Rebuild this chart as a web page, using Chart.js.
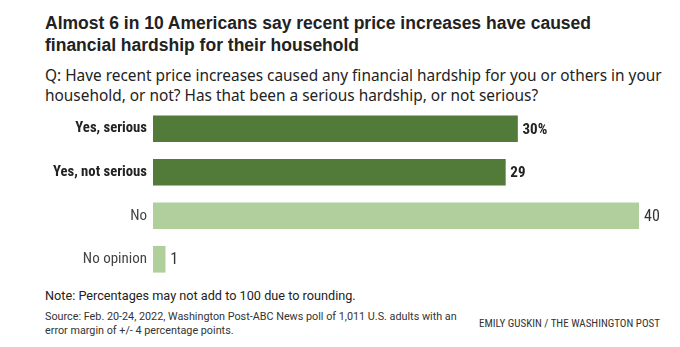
<!DOCTYPE html>
<html>
<head>
<meta charset="utf-8">
<script src="https://cdn.jsdelivr.net/npm/chart.js@4.4.1/dist/chart.umd.min.js"></script>
<style>
  html, body { margin: 0; padding: 0; background: #fff; }
  body { width: 680px; height: 347px; position: relative; overflow: hidden; color: #222; }
  .abs { position: absolute; white-space: nowrap; }
  #title { left: 45px; top: 12px; font: bold 17.5px/22px "Liberation Sans", Arial, sans-serif; color: #222; }
  #subtitle { left: 45px; top: 66px; font: 15.4px/20px "Noto Sans", sans-serif; color: #222; }
  #note { left: 45px; top: 288px; font: 12.7px/16px Roboto, sans-serif; color: #222; }
  #source { left: 45px; top: 310px; font: 10.8px/14px Roboto, sans-serif; color: #333; }
  #credit { left: 479px; top: 317px; font: 11px/14px "Roboto Condensed", "Liberation Sans Narrow", sans-serif; color: #333; }
  #chart { position: absolute; left: 0; top: 106px; }
</style>
</head>
<body>
<div id="title" class="abs">Almost 6 in 10 Americans say recent price increases have caused<br>financial hardship for their household</div>
<div id="subtitle" class="abs">Q: Have recent price increases caused any financial hardship for you or others in your<br>household, or not? Has that been a serious hardship, or not serious?</div>
<canvas id="chart" width="680" height="177"></canvas>
<div id="note" class="abs">Note: Percentages may not add to 100 due to rounding.</div>
<div id="source" class="abs">Source: Feb. 20-24, 2022, Washington Post-ABC News poll of 1,011 U.S. adults with an<br>error margin of +/- 4 percentage points.</div>
<div id="credit" class="abs">EMILY GUSKIN / THE WASHINGTON POST</div>
<script>
// Survey responses and their shares (percent)
const categories = ["Yes, serious", "Yes, not serious", "No", "No opinion"];
const values = [30, 29, 40, 1];
const valueLabels = ["30%", "29", "40", "1"];
const boldRows = [true, true, false, false];

const DARK = "#527a38";
const LIGHT = "#b0cf9c";
const NARROW = '"Liberation Sans Narrow", "Roboto Condensed", sans-serif';

// Writes each bar's value just past its end
const valueLabelPlugin = {
  id: "valueLabels",
  afterDatasetsDraw(chart) {
    const { ctx } = chart;
    const meta = chart.getDatasetMeta(0);
    ctx.save();
    ctx.textBaseline = "middle";
    ctx.textAlign = "left";
    meta.data.forEach((bar, i) => {
      ctx.font = boldRows[i] ? "bold 15px " + NARROW : "16px " + NARROW;
      ctx.fillStyle = boldRows[i] ? "#222" : "#333";
      ctx.fillText(valueLabels[i], bar.x + 5, bar.y + 1);
    });
    ctx.restore();
  }
};

new Chart(document.getElementById("chart"), {
  type: "bar",
  data: {
    labels: categories,
    datasets: [{
      data: values,
      backgroundColor: values.map((v, i) => boldRows[i] ? DARK : LIGHT),
      barThickness: 26,
      borderWidth: 0
    }]
  },
  options: {
    indexAxis: "y",
    responsive: false,
    animation: false,
    layout: { padding: { top: 1, bottom: 2, right: 41, left: 0 } },
    plugins: { legend: { display: false }, tooltip: { enabled: false } },
    scales: {
      x: { min: 0, max: 40, display: false },
      y: {
        grid: { display: false, drawTicks: false },
        border: { display: false },
        // fixed label column; rows use the full height of the plot
        afterFit(scale) {
          scale.width = 153;
          scale.paddingTop = 0;
          scale.paddingBottom = 0;
        },
        ticks: {
          padding: 6,
          color: (c) => boldRows[c.index] ? "#222" : "#444",
          font: (c) => boldRows[c.index]
            ? { family: NARROW, size: 14.7, weight: "bold" }
            : { family: NARROW, size: 15, weight: "normal" }
        }
      }
    }
  },
  plugins: [valueLabelPlugin]
});
</script>
</body>
</html>
